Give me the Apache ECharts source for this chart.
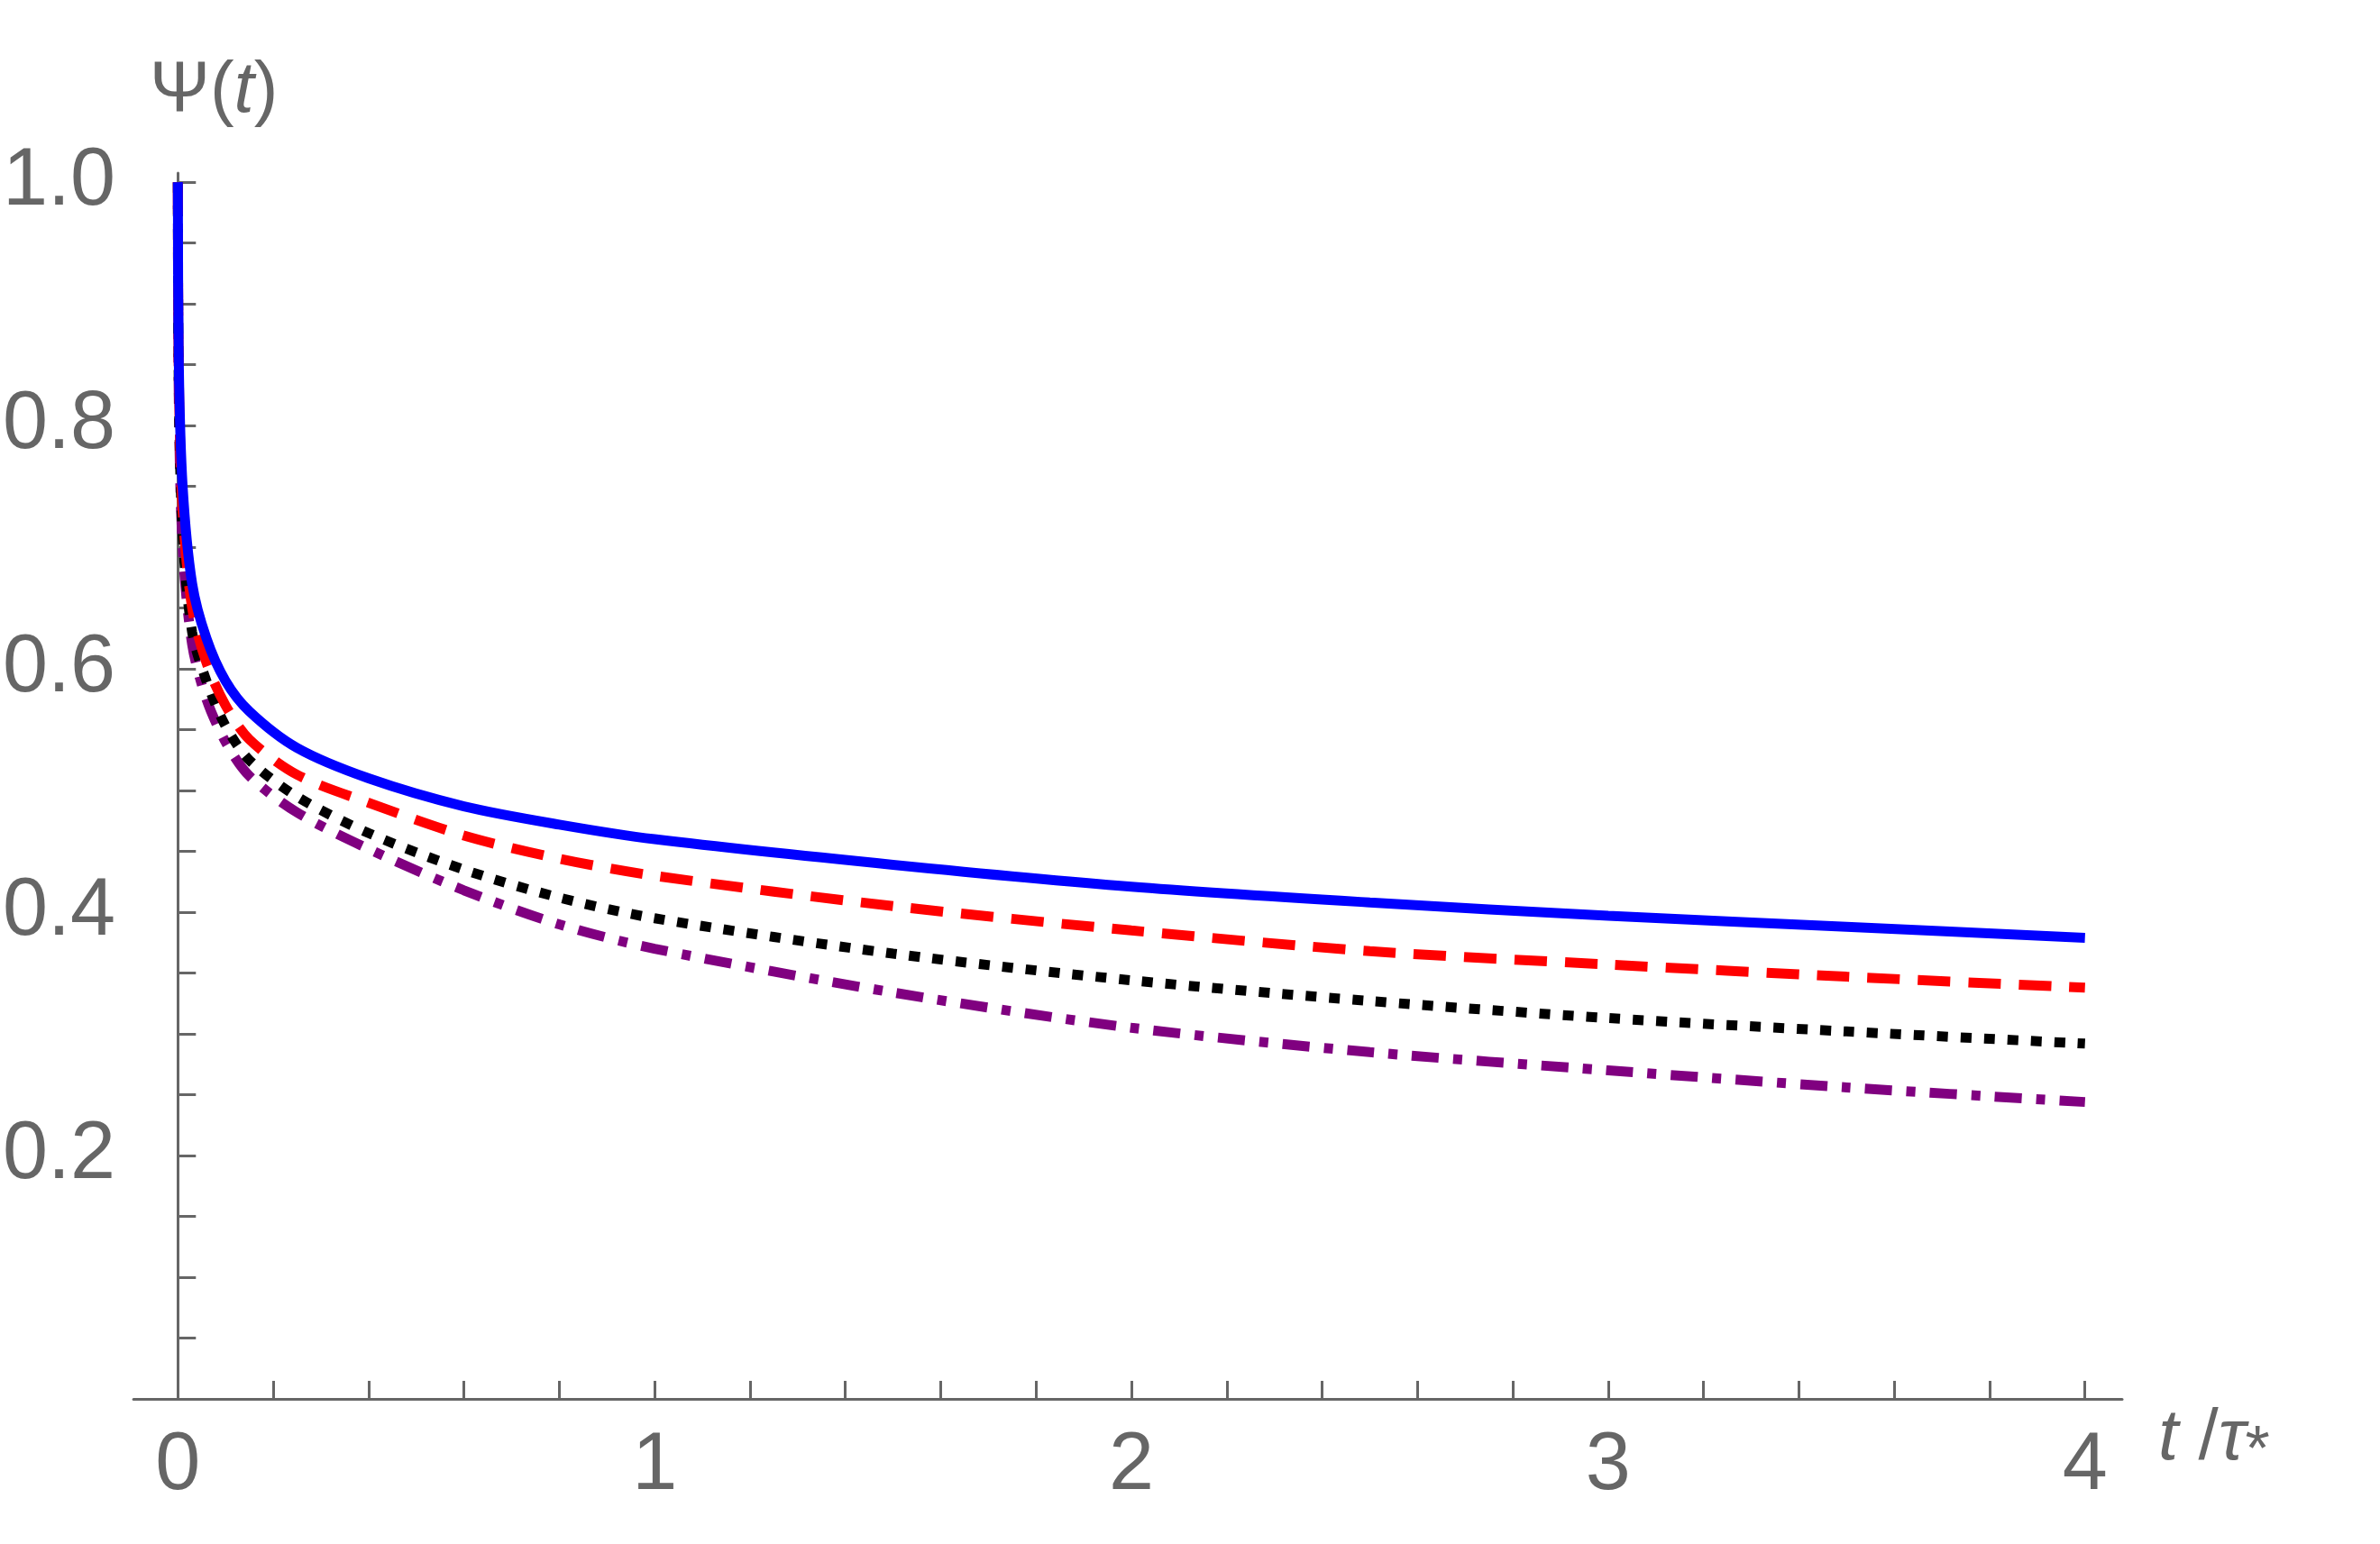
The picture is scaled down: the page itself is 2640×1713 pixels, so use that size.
<!DOCTYPE html>
<html>
<head>
<meta charset="utf-8">
<script src="https://cdn.jsdelivr.net/npm/echarts@6/dist/echarts.min.js"></script>
<style>html,body{margin:0;padding:0;background:#fff}#chart{width:2640px;height:1713px}</style>
</head>
<body>
<div id="chart"></div>
<script>
// t / tau*
var tVals = [0, 0.002, 0.01, 0.03, 0.06, 0.1, 0.15, 0.25, 0.4, 0.6, 0.8, 1, 1.5, 2, 2.5, 3, 3.5, 4];
var blueVals   = [1, 0.85, 0.75, 0.67, 0.625, 0.59, 0.565, 0.535, 0.51, 0.487, 0.472, 0.46, 0.439, 0.421, 0.408, 0.397, 0.388, 0.379];
var redVals    = [1, 0.84, 0.73, 0.65, 0.605, 0.57, 0.542, 0.513, 0.49, 0.463, 0.444, 0.43, 0.405, 0.385, 0.368, 0.357, 0.347, 0.338];
var blackVals  = [1, 0.83, 0.71, 0.63, 0.59, 0.553, 0.525, 0.495, 0.465, 0.435, 0.412, 0.395, 0.366, 0.344, 0.327, 0.313, 0.302, 0.292];
var purpleVals = [1, 0.82, 0.70, 0.62, 0.575, 0.54, 0.512, 0.482, 0.452, 0.418, 0.39, 0.37, 0.334, 0.305, 0.285, 0.27, 0.256, 0.244];
var xTicks = [0, 0.2, 0.4, 0.6, 0.8, 1, 1.2, 1.4, 1.6, 1.8, 2, 2.2, 2.4, 2.6, 2.8, 3, 3.2, 3.4, 3.6, 3.8, 4];
var xLabels = [0, 1, 2, 3, 4];
var yTicks = [0.05, 0.1, 0.15, 0.2, 0.25, 0.3, 0.35, 0.4, 0.45, 0.5, 0.55, 0.6, 0.65, 0.7, 0.75, 0.8, 0.85, 0.9, 0.95, 1];
var yLabels = [0.2, 0.4, 0.6, 0.8, 1.0];

function pairs(ys) {
    return tVals.map(function (t, i) { return [t, ys[i]]; });
}

var gray = '#666';
var chart = echarts.init(document.getElementById('chart'));

function line(vals, color, type) {
    return {
        type: 'line', data: pairs(vals), smooth: 0.3, showSymbol: false,
        lineStyle: { color: color, width: 11, type: type, cap: 'butt' }
    };
}

chart.setOption({
    animation: false,
    grid: { left: 148, right: 286, top: 192, bottom: 161 },
    xAxis: {
        type: 'value', min: -0.093, max: 4.078,
        axisLine: { onZero: true, lineStyle: { color: gray, width: 3 } },
        axisTick: { inside: true, length: 20, customValues: xTicks, lineStyle: { color: gray, width: 3 } },
        axisLabel: { customValues: xLabels, color: gray, fontSize: 90, fontFamily: 'Liberation Sans', margin: 30 },
        splitLine: { show: false },
        name: '{i|t} /{i|τ}{s|*}', nameLocation: 'end', nameGap: 40,
        nameTextStyle: {
            color: gray, fontSize: 80, fontFamily: 'Liberation Sans', padding: [90, 0, 0, 0],
            rich: { i: { fontStyle: 'italic', fontSize: 80, color: gray, fontFamily: 'Liberation Sans' },
                    s: { fontSize: 70, color: gray, verticalAlign: 'bottom', padding: [30, 0, 0, 0] } }
        }
    },
    yAxis: {
        type: 'value', min: 0, max: 1.0075,
        axisLine: { show: true, onZero: true, lineStyle: { color: gray, width: 3 } },
        axisTick: { inside: true, length: 20, customValues: yTicks, lineStyle: { color: gray, width: 3 } },
        axisLabel: {
            customValues: yLabels, color: gray, fontSize: 90, fontFamily: 'Liberation Sans', margin: 20,
            formatter: function (v) { return v.toFixed(1); }
        },
        splitLine: { show: false },
        name: 'Ψ({i|t})', nameLocation: 'end', nameGap: 50,
        nameTextStyle: {
            color: gray, fontSize: 80, fontFamily: 'Liberation Sans', align: 'center', padding: [0, 0, 0, 80],
            rich: { i: { fontStyle: 'italic', fontSize: 80, color: gray, fontFamily: 'Liberation Sans' } }
        }
    },
    series: [
        line(purpleVals, '#800080', [30, 16, 10, 16]),
        line(blackVals, '#000000', [12, 14]),
        line(redVals, '#ff0000', [36, 20]),
        line(blueVals, '#0000ff', 'solid')
    ]
});
</script>
</body>
</html>
